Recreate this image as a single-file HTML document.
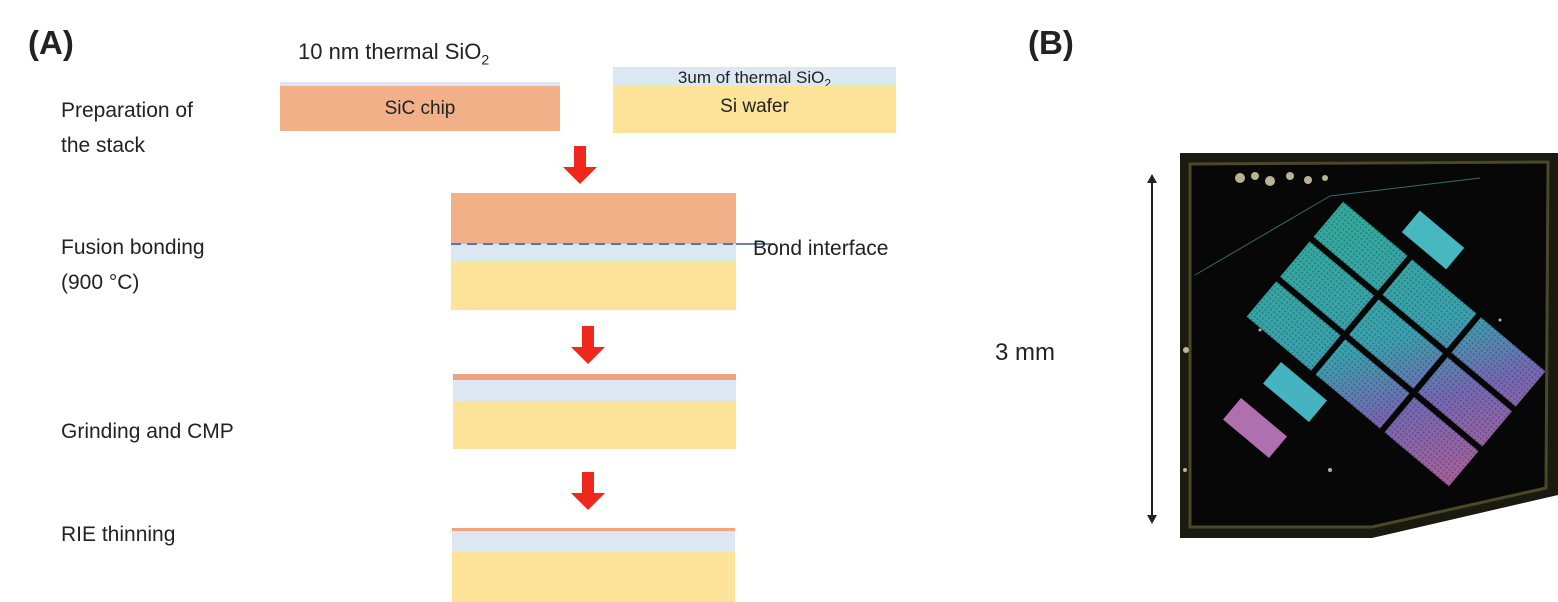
<!DOCTYPE html>
<html><head><meta charset="utf-8"><style>
html,body{margin:0;padding:0;background:#fff;}
body{width:1558px;height:602px;position:relative;overflow:hidden;font-family:"Liberation Sans",sans-serif;color:#222;}
.t{position:absolute;font-size:21px;line-height:35px;white-space:nowrap;}
.b{position:absolute;font-size:33px;font-weight:bold;}
.r{position:absolute;}
</style></head><body>
<div class="b" style="left:28px;top:24px;">(A)</div>
<div class="b" style="left:1028px;top:24px;">(B)</div>
<div class="t" style="left:61px;top:93px;">Preparation of<br>the stack</div>
<div class="t" style="left:61px;top:230px;">Fusion bonding<br>(900 °C)</div>
<div class="t" style="left:61px;top:414px;">Grinding and CMP</div>
<div class="t" style="left:61px;top:517px;">RIE thinning</div>
<div class="t" style="left:298px;top:34px;font-size:22px;">10 nm thermal SiO<sub style="font-size:14px">2</sub></div>

<div class="r" style="left:280px;top:82px;width:280px;height:4px;background:#dbe6ef;"></div>
<div class="r" style="left:280px;top:86px;width:280px;height:45px;background:#f1b087;text-align:center;font-size:19px;line-height:45px;">SiC chip</div>
<div class="r" style="left:613px;top:67px;width:283px;height:19px;background:#dce7f2;text-align:center;font-size:17px;line-height:22px;">3um of thermal SiO<sub style="font-size:12px">2</sub></div>
<div class="r" style="left:613px;top:86px;width:283px;height:47px;background:#fce399;text-align:center;font-size:19px;line-height:42px;">Si wafer</div>

<div class="r" style="left:451px;top:193px;width:285px;height:51px;background:#f1b087;"></div>
<div class="r" style="left:451px;top:244px;width:285px;height:18px;background:#dce7f2;"></div>
<div class="r" style="left:451px;top:262px;width:285px;height:48px;background:#fce399;"></div>
<svg class="r" style="left:0;top:0" width="1558" height="602">
<line x1="451" y1="244" x2="736" y2="244" stroke="#4a78c8" stroke-width="2" stroke-dasharray="10,6"/>
<line x1="736" y1="244" x2="775" y2="244" stroke="#3a5a9a" stroke-width="1.5"/>
</svg>
<div class="t" style="left:753px;top:231px;font-size:21px;">Bond interface</div>

<div class="r" style="left:453px;top:374px;width:283px;height:6px;background:#eea57f;"></div>
<div class="r" style="left:453px;top:380px;width:283px;height:21px;background:#dce7f2;"></div>
<div class="r" style="left:453px;top:401px;width:283px;height:48px;background:#fce399;"></div>
<div class="r" style="left:452px;top:528px;width:283px;height:3px;background:#eea57f;"></div>
<div class="r" style="left:452px;top:531px;width:283px;height:21px;background:#dce7f2;"></div>
<div class="r" style="left:452px;top:552px;width:283px;height:50px;background:#fce399;"></div>

<svg class="r" style="left:0;top:0" width="1558" height="602">
<defs>
<polygon id="arr" points="-6,0 6,0 6,21 17,21 0,38 -17,21 -6,21" fill="#f0281c"/>
<linearGradient id="g" gradientUnits="userSpaceOnUse" x1="-110" y1="-80" x2="132" y2="75">
<stop offset="0" stop-color="#33a89c"/><stop offset="0.45" stop-color="#3aa0ad"/><stop offset="0.7" stop-color="#7468b2"/><stop offset="1" stop-color="#a8609a"/>
</linearGradient>
<pattern id="dots" width="4" height="4" patternUnits="userSpaceOnUse"><circle cx="2" cy="2" r="0.9" fill="#000" fill-opacity="0.3"/></pattern>
<radialGradient id="edge" cx="0.5" cy="0.5" r="0.7"><stop offset="0.8" stop-color="#050605"/><stop offset="1" stop-color="#2a2a18"/></radialGradient>
</defs>
<use href="#arr" x="580" y="146"/>
<use href="#arr" x="588" y="326"/>
<use href="#arr" x="588" y="472"/>

<line x1="1152" y1="180" x2="1152" y2="518" stroke="#222" stroke-width="2"/>
<polygon points="1152,174 1147,183 1157,183" fill="#222"/>
<polygon points="1152,524 1147,515 1157,515" fill="#222"/>

<polygon points="1180,153 1558,153 1558,495 1372,538 1180,538" fill="#1a1a10"/>
<polygon points="1190,164 1548,162 1546,488 1372,527 1190,527" fill="#060706" stroke="#4a4828" stroke-width="3"/>
<g fill="#d8d2b0" opacity="0.85">
<circle cx="1240" cy="178" r="5"/><circle cx="1255" cy="176" r="4"/><circle cx="1270" cy="181" r="5"/><circle cx="1290" cy="176" r="4"/><circle cx="1308" cy="180" r="4"/><circle cx="1325" cy="178" r="3"/>
<circle cx="1186" cy="350" r="3"/><circle cx="1185" cy="470" r="2"/><circle cx="1330" cy="470" r="2"/><circle cx="1260" cy="330" r="1.5"/><circle cx="1500" cy="320" r="1.5"/>
</g>
<line x1="1195" y1="275" x2="1330" y2="196" stroke="#3a6a60" stroke-width="1"/>
<line x1="1330" y1="196" x2="1480" y2="178" stroke="#3a6a60" stroke-width="1"/>
<g transform="translate(1396,344) rotate(40)">
<g fill="url(#g)">
<rect x="-132" y="-75" width="84" height="46"/><rect x="-42" y="-75" width="84" height="46"/><rect x="48" y="-75" width="84" height="46"/>
<rect x="-132" y="-23" width="84" height="46"/><rect x="-42" y="-23" width="84" height="46"/><rect x="48" y="-23" width="84" height="46"/>
<rect x="-132" y="29" width="84" height="46"/><rect x="-42" y="29" width="84" height="46"/><rect x="48" y="29" width="84" height="46"/>
</g>
<g fill="url(#dots)">
<rect x="-132" y="-75" width="84" height="46"/><rect x="-42" y="-75" width="84" height="46"/><rect x="48" y="-75" width="84" height="46"/>
<rect x="-132" y="-23" width="84" height="46"/><rect x="-42" y="-23" width="84" height="46"/><rect x="48" y="-23" width="84" height="46"/>
<rect x="-132" y="29" width="84" height="46"/><rect x="-42" y="29" width="84" height="46"/><rect x="48" y="29" width="84" height="46"/>
</g>
</g>
<g transform="translate(1433,240) rotate(40)"><rect x="-29" y="-14" width="58" height="28" fill="#48b8c0"/></g>
<g transform="translate(1295,392) rotate(40)"><rect x="-30" y="-14" width="60" height="28" fill="#46b4c0"/></g>
<g transform="translate(1255,428) rotate(40)"><rect x="-30" y="-14" width="60" height="28" fill="#b070b0"/></g>
</svg>
<div class="t" style="left:995px;top:335px;font-size:24px;">3 mm</div>
</body></html>
